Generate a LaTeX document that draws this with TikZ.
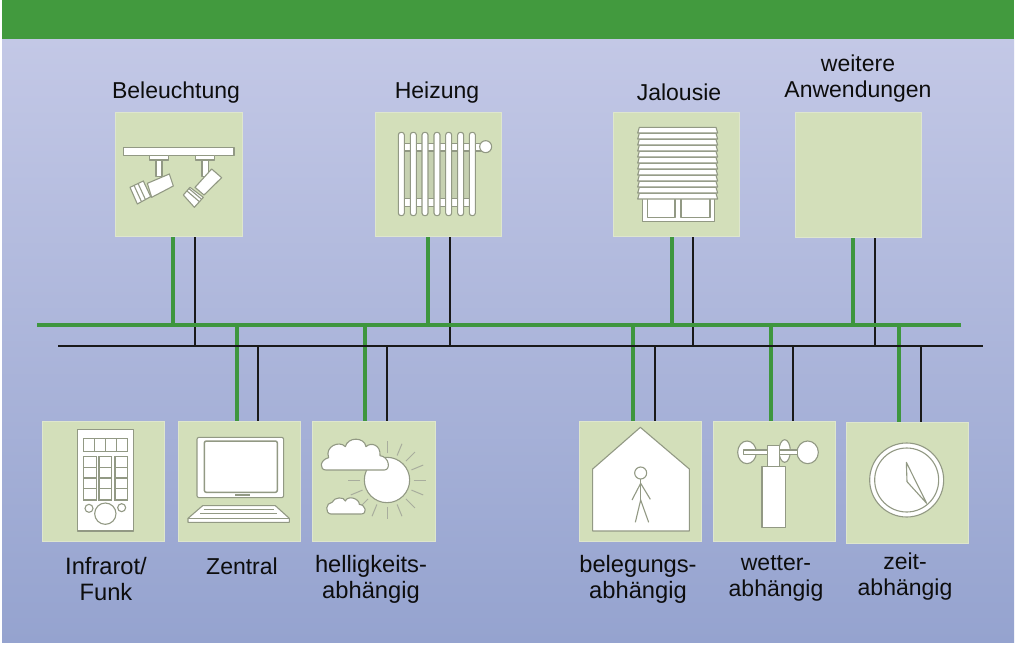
\documentclass[tikz,border=0pt]{standalone}
\usepackage{fontspec}
\setmainfont{Liberation Sans}
\definecolor{bandgreen}{RGB}{66,154,62}
\definecolor{linegreen}{RGB}{62,150,62}
\definecolor{boxgreen}{RGB}{211,223,186}
\definecolor{boxedge}{RGB}{222,230,205}
\definecolor{icongrey}{RGB}{146,153,132}
\definecolor{bgtop}{RGB}{195,200,230}
\definecolor{bgbottom}{RGB}{149,163,207}
\tikzset{
  panel/.style={fill=boxgreen,draw=boxedge,line width=0.8pt},
  greenwire/.style={draw=linegreen,line width=3.8pt},
  blackwire/.style={draw=black!90,line width=1.3pt},
  caption/.style={font=\fontsize{23}{26}\selectfont,text=black!95,align=center,inner sep=0pt},
  lowcaption/.style={caption,font=\fontsize{23.7}{26.5}\selectfont},
  icon/.style={fill=white,draw=icongrey,line width=1.1pt,line join=round},
  iconline/.style={draw=icongrey,line width=1.1pt},
  ray/.style={draw=icongrey!80,line width=1pt}
}
\newcommand{\boxnode}[5]{\node[panel,inner sep=0pt,minimum width=#4pt,minimum height=#5pt] (#1) at (#2,#3) {};}
\begin{document}
\begin{tikzpicture}[x=1pt,y=-1pt]
\useasboundingbox (0,0) rectangle (1023,648);
\fill[white] (0,0) rectangle (1023,648);
\shade[top color=bgtop,bottom color=bgbottom] (2,39) rectangle (1014,642);
\fill[bandgreen] (2,0) rectangle (1014,39);

% bus ends
\coordinate (gL) at (37,325); \coordinate (gR) at (961,325);
\coordinate (kL) at (58,346); \coordinate (kR) at (983,346);
% panels
\boxnode{licht}{179}{174.5}{127}{124.5}
\boxnode{heiz}{438.5}{174.5}{126}{124.5}
\boxnode{jal}{676.5}{174.5}{126}{124.5}
\boxnode{more}{858.5}{175}{126}{125.5}
\boxnode{funk}{103.5}{481.5}{122}{120.5}
\boxnode{zentral}{239.5}{481.5}{122}{120.5}
\boxnode{hell}{374}{481.5}{123}{120.5}
\boxnode{beleg}{640.5}{481.5}{122}{120.5}
\boxnode{wetter}{774.5}{481.5}{122}{120.5}
\boxnode{zeit}{907.5}{483}{122}{121.5}

% wires: upper panels hang on the south side, lower panels on the north side
\foreach \n/\g/\k in {licht/173/195,heiz/428/450,jal/672/693,more/853/875}{
  \coordinate (g\n) at (\g,325);
  \coordinate (k\n) at (\k,346);
  \draw[blackwire] (k\n) -- (k\n |- \n.south);
  \draw[greenwire] (g\n) -- (g\n |- \n.south);
}
\foreach \n/\g/\k in {zentral/237/258,hell/365/387,beleg/633/655,wetter/771/793,zeit/899/921}{
  \coordinate (g\n) at (\g,325);
  \coordinate (k\n) at (\k,346);
  \draw[blackwire] (k\n) -- (k\n |- \n.north);
  \draw[greenwire] (g\n) -- (g\n |- \n.north);
}
% buses
\draw[blackwire] (kL) -- (kR);
\draw[greenwire] (gL) -- (gR);

% Captions
\node[caption] (tLicht) at (176,93) {Beleuchtung};
\node[caption] (tHeiz) at (437,93) {Heizung};
\node[caption] (tJal) at (679,92) {Jalousie};
\node[caption] (tMore) at (858,78.5) {weitere\\Anwendungen};
\node[lowcaption] (tFunk) at (106,579) {Infrarot/\\Funk};
\node[caption] (tZentral) at (242,566) {Zentral};
\node[lowcaption] (tHell) at (371,579.5) {helligkeits-\\abhängig};
\node[lowcaption] (tBeleg) at (638,579.5) {belegungs-\\abhängig};
\node[caption] (tWetter) at (776,578) {wetter-\\abhängig};
\node[caption] (tZeit) at (905,577) {zeit-\\abhängig};

% Lamps
\begin{scope}[shift={(100,100)},scale=1/3]
\draw[icon] (168,180) rectangle (186,230);
\draw[icon] (306,180) rectangle (325,230);
\draw[icon] (70,142) rectangle (402,166);
\draw[icon] (148,166) rectangle (206,180);
\draw[icon] (286,166) rectangle (344,180);
\draw[icon] (142,250) -- (208,222) -- (220,258) -- (155,292) -- cycle;
\draw[icon] (90,262) -- (130,243) -- (152,290) -- (112,312) -- cycle;
\draw[iconline] (102,256) -- (124,304);
\draw[iconline] (114,250) -- (136,298);
\draw[icon] (335,207) -- (365,233) -- (312,285) -- (285,262) -- cycle;
\draw[icon] (270,262) -- (310,292) -- (283,322) -- (250,285) -- cycle;
\draw[iconline] (261,273) -- (298,305);
\draw[iconline] (266,265) -- (304,297);
\end{scope}

% Radiator
\begin{scope}[shift={(370,100)},scale=1/3]
\fill[boxgreen!85!gray] (94,153) rectangle (307,295);
\draw[icon] (90,130) rectangle (335,153);
\draw[icon] (90,295) rectangle (310,320);
\foreach \c in {94,130,165,201,236,272,307}{
  \draw[icon,rounded corners=2.6pt] (\c-9,97) rectangle (\c+9,347);
}
\draw[icon] (347,140) circle (18);
\end{scope}

% Blind
\begin{scope}[shift={(605,100)},scale=1/3]
\draw[icon] (113,285) rectangle (328,365);
\draw[icon] (127,290) rectangle (210,352);
\draw[icon] (228,290) rectangle (315,352);
\foreach \y in {280,262,244,226,208,190,172,154,136,118,100,82}{
  \draw[icon] (103,\y) -- (333,\y) -- (338,\y+17) -- (98,\y+17) -- cycle;
}
\end{scope}

% Remote
\begin{scope}[shift={(35,415)},scale=1/3]
\draw[icon] (127,43) rectangle (295,348);
\foreach \a/\b in {145/178,178/212,212/245,245/278}{\draw[iconline] (\a,70) rectangle (\b,110);}
\foreach \a/\b in {145/185,192/230,240/278}{
  \foreach \r/\s in {125/157,157/189,189/221,221/255}{
    \draw[iconline] (\a,\r) rectangle (\b,\s);
  }
}
\draw[iconline] (162,280) circle (12);
\draw[iconline] (260,278) circle (12);
\draw[iconline] (211,296) circle (32);
\end{scope}

% Laptop
\begin{scope}[shift={(172,415)},scale=1/3]
\draw[icon,rounded corners=2pt] (75,67) rectangle (335,248);
\draw[icon,line width=1.5pt,rounded corners=2pt] (97,78) rectangle (316,232);
\fill[icongrey] (188,236) rectangle (235,242);
\draw[icon] (92,272) -- (310,272) -- (352,310) -- (352,322) -- (48,322) -- (48,310) -- cycle;
\draw[iconline] (48,310) -- (352,310);
\draw[iconline] (95,283) -- (305,283);
\draw[iconline] (85,295) -- (315,295);
\end{scope}

% Sun and clouds
\begin{scope}[shift={(306,415)},scale=1/3]
\foreach \dx/\dy in {0/-1,0.38/-0.92,0.71/-0.71,0.92/-0.38,1/0,0.92/0.38,0.71/0.71,0.38/0.92,0/1,-0.38/0.92,-0.71/0.71,-0.92/0.38,-1/0}{
  \draw[ray] (243+80*\dx,195+80*\dy) -- (243+118*\dx,195+118*\dy);
}
\draw[icon] (243,195) circle (68);
\draw[icon] (60,165) .. controls (40,165) and (40,135) .. (68,128)
  .. controls (55,95) and (100,75) .. (118,95)
  .. controls (125,65) and (175,65) .. (180,95)
  .. controls (195,80) and (225,90) .. (222,122)
  .. controls (250,125) and (255,165) .. (235,165) -- cycle;
\draw[icon] (75,297) .. controls (55,295) and (60,262) .. (78,262)
  .. controls (85,245) and (115,245) .. (118,258)
  .. controls (125,240) and (160,250) .. (160,268)
  .. controls (180,270) and (185,297) .. (165,297) -- cycle;
\end{scope}

% House
\begin{scope}[shift={(572,415)},scale=1/3]
\draw[icon] (62,348) -- (62,162) -- (205,37) -- (352,162) -- (352,348) -- cycle;
\draw[iconline] (206,174) circle (18);
\draw[iconline] (206,192) -- (206,255);
\draw[iconline] (180,255) -- (206,205) -- (235,253);
\draw[iconline] (190,322) -- (206,255) -- (230,322);
\end{scope}

% Wind gauge
\begin{scope}[shift={(707,415)},scale=1/3]
\draw[icon] (120,112) ellipse (28 and 34);
\draw[icon] (233,108) ellipse (17 and 34);
\draw[icon] (302,112) ellipse (32 and 34);
\draw[icon] (110,105) rectangle (182,118);
\draw[icon] (208,105) rectangle (272,118);
\draw[icon] (182,92) rectangle (218,155);
\draw[icon] (165,155) rectangle (235,338);
\end{scope}

% Clock
\begin{scope}[shift={(840,415)},scale=1/3]
\draw[icon] (200,195) circle (111);
\draw[iconline] (200,195) circle (96);
\draw[iconline,line join=round] (199,142) -- (201,200) -- (260,265) -- cycle;
\end{scope}
\end{tikzpicture}
\end{document}
